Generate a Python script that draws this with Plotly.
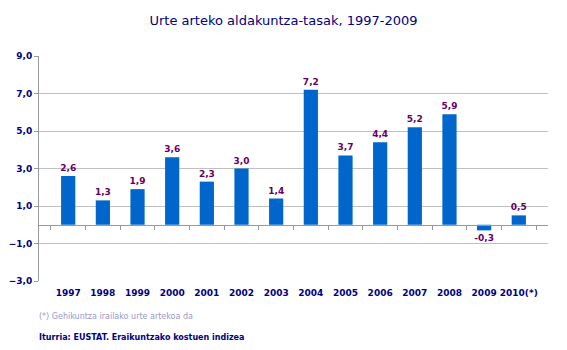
import plotly.graph_objects as go

# Year-on-year rates of the construction cost index
years = ["1997", "1998", "1999", "2000", "2001", "2002", "2003",
         "2004", "2005", "2006", "2007", "2008", "2009", "2010(*)"]
rates = [2.6, 1.3, 1.9, 3.6, 2.3, 3.0, 1.4, 7.2, 3.7, 4.4, 5.2, 5.9, -0.3, 0.5]
y_ticks = [9, 7, 5, 3, 1, -1, -3]

title_text = "Urte arteko aldakuntza-tasak, 1997-2009"
note_text = "(*) Gehikuntza irailako urte artekoa da"
source_text = "Iturria: EUSTAT. Eraikuntzako kostuen indizea"

NAVY = "#000080"
BAR = "#0066CC"
LABEL = "#660066"
GRID = "#C0C0C0"
AXIS = "#999999"
FONT = "DejaVu Sans"

# plot area in pixels, used to place the notes under the chart
PLOT_W, PLOT_H, LEFT = 509, 225, 39

fig = go.Figure()

fig.add_trace(go.Bar(
    x=years, y=rates,
    marker=dict(color=BAR, line=dict(width=0)),
    text=[f"{v:.1f}".replace(".", ",") for v in rates],
    textposition="outside",
    constraintext="none",
    textfont=dict(family=FONT, size=9, color=LABEL, weight="bold"),
    cliponaxis=False,
    hoverinfo="skip",
))

# helper trace carrying the zero-line axis with boundary ticks
fig.add_trace(go.Scatter(
    x=years, y=rates, xaxis="x2", yaxis="y",
    mode="markers", marker=dict(opacity=0),
    hoverinfo="skip", showlegend=False,
))

fig.update_layout(
    width=567, height=350,
    margin=dict(l=LEFT, r=19, t=56, b=69),
    paper_bgcolor="white", plot_bgcolor="white",
    separators=",.",
    showlegend=False,
    bargap=0.59,
    title=dict(
        text=title_text, x=0.5, xanchor="center", y=1 - 20 / 350, yanchor="middle",
        font=dict(family=FONT, size=13, color=NAVY),
    ),
    xaxis=dict(
        type="category", automargin=False,
        showgrid=False, showline=False, zeroline=False,
        ticks="", tickangle=0, ticklabelstandoff=5,
        tickfont=dict(family=FONT, size=9, color=NAVY, weight="bold"),
    ),
    xaxis2=dict(
        type="category", matches="x", overlaying="x",
        anchor="free", position=0.25, automargin=False,
        showline=True, linecolor=AXIS, linewidth=1,
        ticks="outside", tickson="boundaries", ticklen=4, tickcolor=AXIS,
        showticklabels=False, showgrid=False, zeroline=False,
    ),
    yaxis=dict(
        range=[-3, 9], tickvals=y_ticks, tickformat=".1f",
        automargin=False,
        showgrid=True, gridcolor=GRID, gridwidth=1,
        showline=True, linecolor=AXIS, linewidth=1,
        ticks="outside", ticklen=4, tickcolor=AXIS,
        zeroline=False,
        tickfont=dict(family=FONT, size=9, color=NAVY, weight="bold"),
    ),
    annotations=[
        dict(text=note_text, xref="paper", yref="paper",
             x=(37 - LEFT) / PLOT_W, y=-(316 - 281) / PLOT_H,
             xanchor="left", yanchor="middle", showarrow=False,
             font=dict(family=FONT, size=8, color="#9999CC")),
        dict(text=source_text, xref="paper", yref="paper",
             x=(37 - LEFT) / PLOT_W, y=-(337 - 281) / PLOT_H,
             xanchor="left", yanchor="middle", showarrow=False,
             font=dict(family=FONT, size=8, color=NAVY, weight="bold")),
    ],
)

fig.write_html("out.html")
